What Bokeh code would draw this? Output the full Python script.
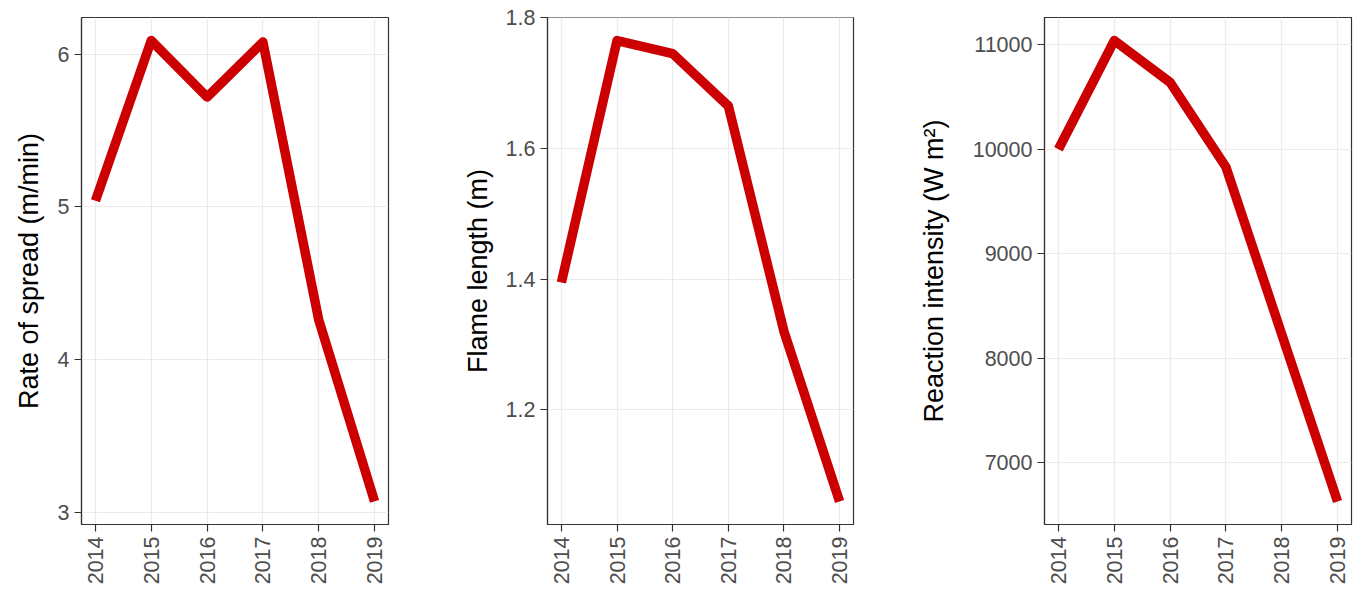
import math
from bokeh.plotting import figure
from bokeh.layouts import row
from bokeh.models import Range1d, FixedTicker
from bokeh.embed import file_html
from bokeh.resources import INLINE

years = [2014, 2015, 2016, 2017, 2018, 2019]
rate_of_spread = [5.04, 6.09, 5.72, 6.08, 4.26, 3.07]
flame_length = [1.395, 1.765, 1.745, 1.665, 1.32, 1.06]
reaction_intensity = [10000, 11040, 10640, 9830, 8230, 6630]

rate_ticks = [3, 4, 5, 6]
flame_ticks = [1.2, 1.4, 1.6, 1.8]
reaction_ticks = [7000, 8000, 9000, 10000, 11000]

titles = ["Rate of spread (m/min)", "Flame length (m)", "Reaction intensity (W m\u00b2)"]

FONT = "Liberation Sans"
LINE_COLOR = "#CC0000"


def padded(vals, frac=0.05):
    lo, hi = min(vals), max(vals)
    d = (hi - lo) * frac
    return lo - d, hi + d


def panel(values, ticks, title, width, left, right, title_standoff):
    x0, x1 = padded(years)
    y0, y1 = padded(values)
    p = figure(width=width, height=590, output_backend="svg", toolbar_location=None,
               x_range=Range1d(x0, x1), y_range=Range1d(y0, y1),
               min_border_left=left, min_border_right=right,
               min_border_top=17, min_border_bottom=66)
    p.background_fill_color = "white"
    p.border_fill_color = "white"
    p.outline_line_color = "#333333"
    p.outline_line_width = 1.2

    p.line(years, values, line_color=LINE_COLOR, line_width=9.5, line_join="round")

    p.xaxis.ticker = FixedTicker(ticks=years)
    p.yaxis.ticker = FixedTicker(ticks=ticks)
    p.xgrid.ticker = FixedTicker(ticks=years)
    p.ygrid.ticker = FixedTicker(ticks=ticks)
    p.grid.grid_line_color = "#EBEBEB"
    p.grid.grid_line_width = 1.2

    for ax in (p.xaxis[0], p.yaxis[0]):
        ax.axis_line_color = "#333333"
        ax.axis_line_width = 1.2
        ax.major_tick_line_color = "#333333"
        ax.major_tick_line_width = 1.2
        ax.major_tick_out = 7
        ax.major_tick_in = 0
        ax.minor_tick_line_color = None
        ax.major_label_text_font = FONT
        ax.major_label_text_font_size = "21.5px"
        ax.major_label_text_color = "#4D4D4D"
        ax.major_label_standoff = 5

    p.xaxis.major_label_orientation = math.pi / 2
    p.yaxis.axis_label = title
    p.yaxis.axis_label_text_font = FONT
    p.yaxis.axis_label_text_font_size = "27px"
    p.yaxis.axis_label_text_font_style = "normal"
    p.yaxis.axis_label_text_color = "black"
    p.yaxis.axis_label_standoff = title_standoff
    return p


p1 = panel(rate_of_spread, rate_ticks, titles[0], 418, 81, 30, 11)
p2 = panel(flame_length, flame_ticks, titles[1], 465, 129, 30, 10)
p3 = panel(reaction_intensity, reaction_ticks, titles[2], 480, 161, 12, 21)

layout = row(p1, p2, p3, spacing=0)
open("out.html", "w").write(file_html(layout, INLINE))
